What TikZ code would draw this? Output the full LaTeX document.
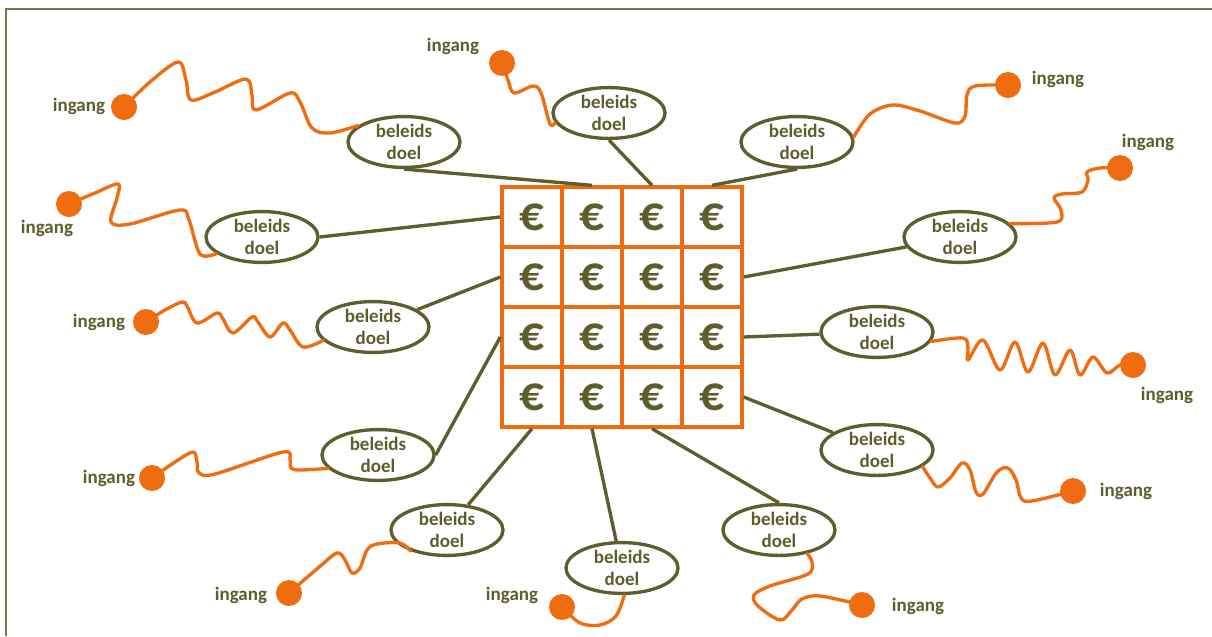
\documentclass[tikz,border=0pt]{standalone}
\usepackage{fontspec}
\setmainfont{Carlito}
\usetikzlibrary{shapes.geometric,positioning}
\definecolor{olijf}{RGB}{94,94,44}
\definecolor{rand}{RGB}{120,120,70}
\definecolor{oranje}{RGB}{240,108,16}
\tikzset{
  doel/.style={ellipse, draw=olijf, line width=0.95pt, minimum width=1.12cm, minimum height=0.5cm, inner sep=0pt, align=center, text=olijf, font=\fontsize{5.4}{6.4}\selectfont\bfseries},
  bol/.style={circle, fill=oranje, minimum size=0.26cm, inner sep=0pt},
  lbl/.style={inner sep=0pt, text=olijf, font=\fontsize{5.4}{6.4}\selectfont\bfseries},
  cel/.style={draw=oranje, line width=0.95pt, minimum size=0.6cm, inner sep=0pt, text=olijf, font=\fontsize{14}{14}\selectfont\bfseries},
  lijn/.style={olijf, line width=0.95pt},
  draad/.style={oranje, line width=0.95pt, line join=round, line cap=round}
}
\begin{document}
\begin{tikzpicture}[x=0.01cm, y=-0.01cm]
\useasboundingbox (0,0) rectangle (1212,636);
\draw[rand, line width=0.4pt] (6,636) -- (6,9) -- (1212,9);

% de pot met geld
\foreach \r in {1,...,4}
  \foreach \c in {1,...,4}
    \node[cel] (c-\r-\c) at (472+60*\c, 157+60*\r) {€};

% beleidsdoelen
\node[doel] (d1) at (404,142) {beleids\\doel};
\node[doel] (d2) at (609,113) {beleids\\doel};
\node[doel] (d3) at (797,142) {beleids\\doel};
\node[doel] (d4) at (262,237) {beleids\\doel};
\node[doel] (d5) at (960,237) {beleids\\doel};
\node[doel] (d6) at (373,327) {beleids\\doel};
\node[doel] (d7) at (877,332) {beleids\\doel};
\node[doel] (d8) at (378,455) {beleids\\doel};
\node[doel] (d9) at (877,450) {beleids\\doel};
\node[doel] (d10) at (447,530) {beleids\\doel};
\node[doel] (d11) at (622,568) {beleids\\doel};
\node[doel] (d12) at (779,530) {beleids\\doel};

% ingangen
\foreach \n/\p/\q in {1/124/107, 2/502/63, 3/1008/85, 4/69/204, 5/1120/168, 6/146/322,
    7/1133/365, 8/152/478, 9/1073/491, 10/289/593, 11/562/607, 12/862/605}
  \node[bol] (i\n) at (\p,\q) {};
\foreach \n/\p/\q in {1/79/106, 2/453/46, 3/1058/79, 4/47/228, 5/1148/142, 6/99/322,
    7/1167/395, 8/109/478, 9/1126/491, 10/241/595, 11/512/595, 12/918/606}
  \node[lbl] (l\n) at (\p,\q) {ingang};

\draw[lijn] (d1.south) -- (c-1-2.north);
\draw[lijn] (d2.south) -- (c-1-3.north);
\draw[lijn] (d3.south) -- (c-1-4.north);
\draw[lijn] (d4.east) -- (c-1-1.west);
\draw[lijn] (d5) -- (c-2-4.east);
\draw[lijn] (d6) -- (c-2-1.west);
\draw[lijn] (d7) -- (c-3-4.east);
\draw[lijn] (d8.east) -- (c-3-1.west);
\draw[lijn] (d9) -- (c-4-4.east);
\draw[lijn] (d10) -- (c-4-1.south);
\draw[lijn] (d11) -- (c-4-2.south);
\draw[lijn] (d12.north) -- (c-4-3.south);

% kronkels
\draw[draad] plot[smooth, tension=0.55] coordinates {(i1.center) (150,82) (178,62) (186,80) (191,100) (215,92) (246,79) (252,95) (256,110) (290,93) (300,102) (312,128) (330,133) (d1.160)};
\draw[draad] plot[smooth, tension=0.55] coordinates {(i2.center) (508,80) (514,93) (533,86) (541,93) (550,124) (d2.190)};
\draw[draad] plot[smooth, tension=0.55] coordinates {(d3.5) (870,114) (893,105) (920,111) (955,123) (965,116) (967,95) (975,86) (i3.center)};
\draw[draad] plot[smooth, tension=0.55] coordinates {(i4.center) (95,193) (118,184) (117,198) (111,222) (130,224) (180,210) (189,220) (200,254) (d4.200)};
\draw[draad] plot[smooth, tension=0.55] coordinates {(d5.15) (1057,222) (1061,210) (1054,198) (1062,194) (1082,192) (1088,180) (1087,172) (1100,168) (i5.center)};
\draw[draad] plot[smooth, tension=0.55] coordinates {(i6.center) (165,310) (182,302) (187,306) (197,323) (217,313) (223,319) (233,333) (252,317) (258,322) (270,337) (283,323) (290,330) (303,347) (d6.195)};
\draw[draad] plot[smooth, tension=0.55] coordinates {(d7.350) (963,338) (968,348) (968,360) (983,340) (1000,370) (1015,342) (1028,372) (1043,343) (1055,375) (1070,350) (1080,375) (1093,357) (1107,373) (1120,365) (i7.center)};
\draw[draad] plot[smooth, tension=0.55] coordinates {(i8.center) (175,462) (193,452) (197,462) (199,473) (215,474) (283,452) (290,460) (291,468) (300,470) (d8.195)};
\draw[draad] plot[smooth, tension=0.55] coordinates {(d9.340) (930,478) (938,487) (950,478) (962,463) (970,470) (976,492) (983,494) (997,472) (1008,468) (1016,480) (1021,498) (1032,501) (i9.center)};
\draw[draad] plot[smooth, tension=0.55] coordinates {(i10.center) (318,568) (337,553) (345,560) (352,573) (360,568) (367,550) (377,544) (400,543) (d10.210)};
\draw[draad] plot[smooth, tension=0.55] coordinates {(i11.center) (580,623) (600,625) (616,616) (d11.275)};
\draw[draad] plot[smooth, tension=0.55] coordinates {(d12.320) (812,562) (808,574) (770,586) (754,595) (758,606) (780,620) (792,610) (802,599) (820,596) (i12.center)};

\end{tikzpicture}
\end{document}
